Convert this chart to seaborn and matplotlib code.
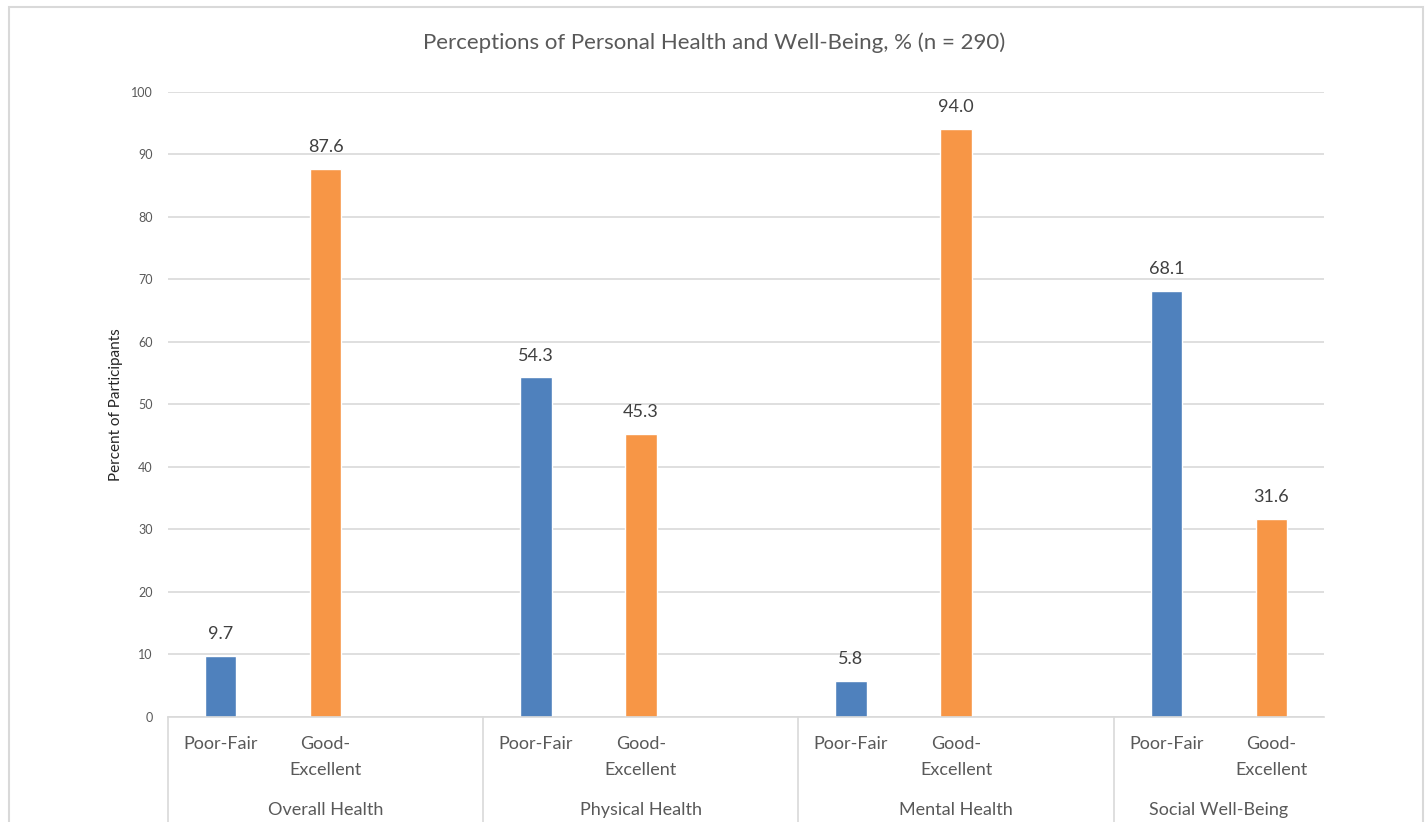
import matplotlib
matplotlib.use("Agg")
import matplotlib.pyplot as plt
import matplotlib.patches as mpatches
import matplotlib.transforms as mtransforms
import seaborn as sns
import pandas as pd

# Survey results
domains = ["Overall Health", "Physical Health", "Mental Health", "Social Well-Being"]
ratings = ["Poor-Fair", "Good-Excellent"]
rating_lines = [["Poor-Fair"], ["Good-", "Excellent"]]
poor_fair = [9.7, 54.3, 5.8, 68.1]
good_excellent = [87.6, 45.3, 94.0, 31.6]
title = "Perceptions of Personal Health and Well-Being, % (n = 290)"
ylabel = "Percent of Participants"

rows = []
for d, pf, ge in zip(domains, poor_fair, good_excellent):
    rows.append({"slot": f"{d}|{ratings[0]}", "domain": d, "rating": ratings[0], "value": pf})
    rows.append({"slot": f"{d}|{ratings[1]}", "domain": d, "rating": ratings[1], "value": ge})
df = pd.DataFrame(rows)

# category slots: two bars per domain followed by an empty spacer slot
order = []
for i, d in enumerate(domains):
    order += [f"{d}|{ratings[0]}", f"{d}|{ratings[1]}"]
    if i < len(domains) - 1:
        order.append(f"spacer{i}")

sns.set_theme(style="white")
plt.rcParams["font.family"] = ["Lato", "DejaVu Sans"]

text_col = "#595959"
grid_col = "#D9D9D9"
palette = {"Poor-Fair": "#4F81BD", "Good-Excellent": "#F79646"}

fig = plt.figure(figsize=(14.28, 8.22), dpi=100)
ax = fig.add_axes([0.1176, 0.1277, 0.8095, 0.7609])

sns.barplot(data=df, x="slot", y="value", hue="rating", order=order,
            hue_order=ratings, palette=palette, dodge=False, width=0.3,
            saturation=1, legend=False, ax=ax)

ax.set_xlim(-0.5, len(order) - 0.5)
ax.set_ylim(0, 100)
ax.set_yticks(range(0, 101, 10))
ax.yaxis.grid(True, color=grid_col, linewidth=1.2)
ax.set_axisbelow(True)
for s in ["top", "right", "left"]:
    ax.spines[s].set_visible(False)
ax.spines["bottom"].set_color(grid_col)
ax.spines["bottom"].set_linewidth(1.2)
ax.tick_params(axis="y", length=0, pad=11, labelsize=9, labelcolor=text_col)
ax.tick_params(axis="x", length=0)
ax.set_xticks([])
ax.set_xlabel("")
ax.set_ylabel(ylabel, fontsize=11, color="#262626", labelpad=6)

# value labels above bars
for cont in ax.containers:
    ax.bar_label(cont, fmt="%.1f", padding=10, fontsize=13, color="#404040")

# two-level category axis
trans = mtransforms.blended_transform_factory(ax.transData, ax.transAxes)
line_y = [-0.0432, -0.0848]
for i, d in enumerate(domains):
    base = 3 * i
    n_slots = 3 if i < len(domains) - 1 else 2
    for j, lines in enumerate(rating_lines):
        for k, txt in enumerate(lines):
            ax.text(base + j, line_y[k], txt, transform=trans, ha="center",
                    va="center", fontsize=13, color=text_col)
    ax.text(base - 0.5 + n_slots / 2, -0.1488, d, transform=trans, ha="center",
            va="center", fontsize=13, color=text_col)
    ax.plot([base - 0.5, base - 0.5], [0, -0.2], transform=trans, color=grid_col,
            linewidth=1.2, clip_on=False)

fig.suptitle(title, x=0.5, y=0.96, fontsize=16, color=text_col)

# chart frame
frame = mpatches.Rectangle((0.0063, -0.05), 0.9902, 1.0415, transform=fig.transFigure,
                           fill=False, edgecolor=grid_col, linewidth=1.5)
fig.patches.append(frame)

fig.savefig("out.png", dpi=100)
